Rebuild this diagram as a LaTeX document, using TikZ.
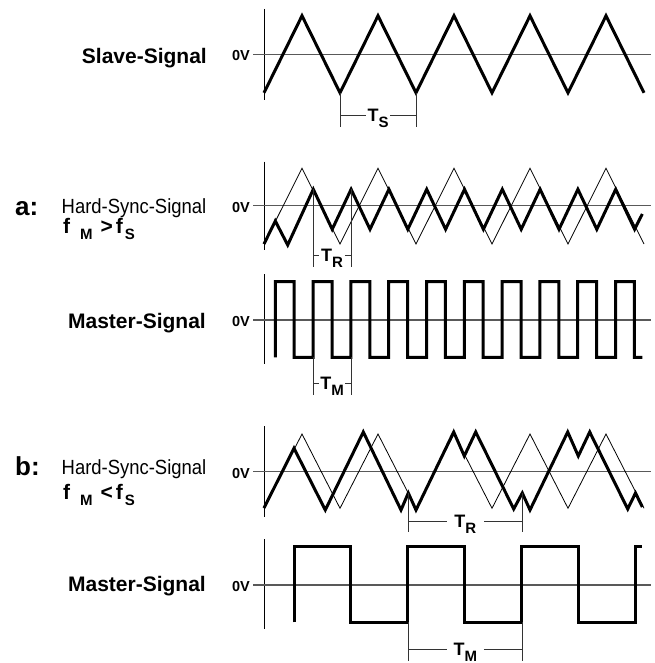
\documentclass[tikz,border=0pt]{standalone}
\usepackage{fontspec}
\setmainfont{Liberation Sans}
\newfontfamily\narrowfont[FakeStretch=0.9]{Liberation Sans}
\newcommand{\lowsub}[1]{\lower6pt\hbox{\fontsize{15}{15}\selectfont\bfseries #1}}
\tikzset{
  sig/.style={line width=3pt, line join=miter},
  refsig/.style={line width=0.8pt},
  axis/.style={line width=1pt},
  zero/.style={line width=1.2pt, black!65},
  tick/.style={line width=0.9pt, black!80},
  zlabel/.style={font=\fontsize{14.5}{15}\selectfont\bfseries, anchor=base east, inner sep=0pt},
  signame/.style={font=\fontsize{21}{24}\selectfont\bfseries, anchor=base east, inner sep=0pt},
  casename/.style={font=\fontsize{26}{28}\selectfont\bfseries, anchor=base west, inner sep=0pt},
  hsname/.style={font=\narrowfont\fontsize{20.5}{24}\selectfont, anchor=base west, inner sep=0pt},
  freq/.style={font=\fontsize{21}{24}\selectfont\bfseries, anchor=base west, inner sep=0pt},
  perlabel/.style={font=\fontsize{18}{20}\selectfont\bfseries, anchor=base, inner ysep=0pt}
}
\begin{document}
\begin{tikzpicture}[x=1pt, y=-1pt]
\fill[white] (0,0) rectangle (654,663);
\useasboundingbox (0,0) rectangle (654,663);

% axes and 0V lines
\foreach \i/\y/\t/\b in {1/54.3/9/100, 2/205.7/161.7/250, 3/320/274/364, 4/471.7/426/516.7, 5/585/539.3/629}
{
    \draw[axis] (264,\t)--(264,\b);
    \draw[zero] (253,\y)--(651,\y);
    \node[zlabel] (zero\i) at (250,{\y+6.5}) {0V};
}

% slave
\draw[sig] (264,92.8) \foreach \k in {0,...,4} { -- ({302+76*\k},15.8) -- ({340+76*\k},92.8) };
% slave as reference behind the sync signals
\draw[refsig] (264,244) \foreach \k in {0,...,4} { -- ({302+76*\k},168.3) -- ({340+76*\k},244) };
\draw[refsig] (264,508.3) \foreach \k in {0,...,4} { -- ({302+76*\k},434) -- ({340+76*\k},508.3) };

% a: hard sync and master
\draw[sig] (264,244) -- (275.3,221) -- (287.7,245)
    \foreach \k in {0,...,8} { -- ({313.3+37.8*\k},189.3) -- ({332.2+37.8*\k},229.3) } -- (642.3,214);
\draw[sig] (275.3,357.3)
    \foreach \k in {0,...,8} { -- ({275.3+37.8*\k},281.7) -- ({294.2+37.8*\k},281.7) -- ({294.2+37.8*\k},357.3) -- ({313.1+37.8*\k},357.3) }
    -- (615.5,281.7) -- (634.4,281.7) -- (634.4,357.3) -- (642.3,357.3);

% b: hard sync and master
\draw[sig] (264,508) -- (294,448.3) -- (325.3,510) -- (363.3,432) -- (401,510) -- (408.3,493) -- (416,510)
    -- (453.7,432) -- (464.3,456) -- (475.7,432) -- (513.7,509) -- (522.3,493) -- (530,510)
    -- (567.7,432) -- (578.3,456) -- (589.7,432) -- (627.7,509) -- (635.5,493) -- (642.3,507);
\draw[sig] (294,622.3) -- (294,546.7) -- (350.8,546.7) -- (350.8,622.3) -- (407.7,622.3) -- (407.7,546.7)
    -- (464.5,546.7) -- (464.5,622.3) -- (521.4,622.3) -- (521.4,546.7) -- (578.2,546.7) -- (578.2,622.3)
    -- (635.1,622.3) -- (635.1,546.7) -- (642.3,546.7);

% period brackets
\foreach \n/\xl/\xr/\yt/\yb/\yl/\s/\gap in {ts/340/416/92.7/126.7/115.7/S/1.5,
    tra/313.3/351/189.3/266.7/255/R/1.6, tma/313.3/351/357.3/395/383.3/M/1.3,
    trb/408.3/522.3/493/531.7/521/R/7.6, tmb/408.3/522.3/622.3/661/649/M/6.7}
{
    \coordinate (\n l) at (\xl,\yl);
    \coordinate (\n r) at (\xr,\yl);
    \node[perlabel, inner xsep=\gap pt] (\n) at ({(\xl+\xr)/2},{\yl+6}) {T\lowsub{\s}};
    \draw[tick] (\xl,\yt)--(\xl,\yb) (\xr,\yt)--(\xr,\yb);
    \draw[tick] (\n l)--(\n l -| \n.west) (\n r -| \n.east)--(\n r);
}

% names
\node[signame] (slave) at (207,63.3) {Slave-Signal};
\node[casename] (casea) at (15,215) {a:};
\node[hsname] (hsa) at (61.5,213.5) {Hard-Sync-Signal};
\node[freq] (fa) at (63,233) {f\kern10pt\lowsub{M}\kern8pt>\kern3pt f\kern2pt\lowsub{S}};
\node[signame] (mastera) at (206,328.5) {Master-Signal};
\node[casename] (caseb) at (15,475) {b:};
\node[hsname] (hsb) at (61.5,474) {Hard-Sync-Signal};
\node[freq] (fb) at (63,499) {f\kern10pt\lowsub{M}\kern8pt<\kern3pt f\kern2pt\lowsub{S}};
\node[signame] (masterb) at (206,591.7) {Master-Signal};

\end{tikzpicture}
\end{document}
